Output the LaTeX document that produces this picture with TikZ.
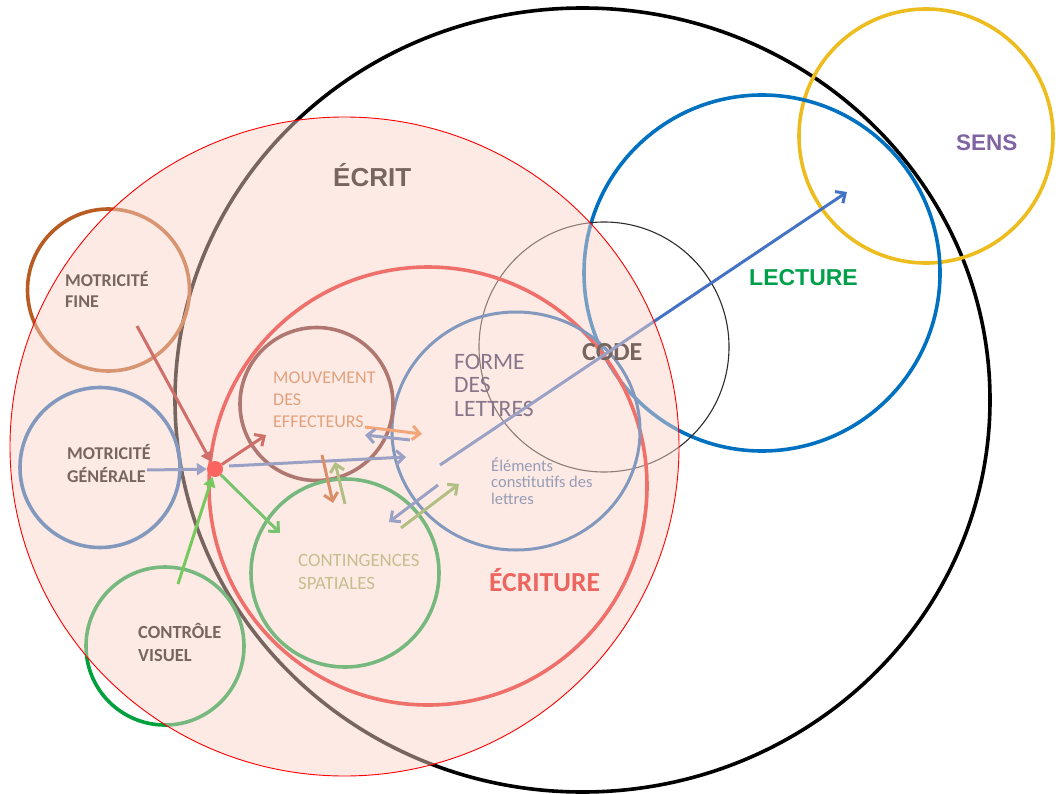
\documentclass[tikz,border=0pt]{standalone}
\usepackage{fontspec}
\setmainfont{Carlito}
\newfontfamily\arialf{Liberation Sans}
\usetikzlibrary{arrows.meta,shapes.geometric}
\definecolor{cFine}{RGB}{185,92,35}
\definecolor{cBlueRing}{RGB}{20,100,180}
\definecolor{cGreenRing}{RGB}{0,160,60}
\definecolor{cMouv}{RGB}{110,35,35}
\definecolor{cEcriture}{RGB}{230,20,20}
\definecolor{cCode}{RGB}{45,45,45}
\definecolor{cLecture}{RGB}{0,112,192}
\definecolor{cSens}{RGB}{237,188,30}
\definecolor{tSens}{RGB}{128,100,162}
\definecolor{tLecture}{RGB}{0,160,75}
\definecolor{tEcriture}{RGB}{225,0,0}
\definecolor{tForme}{RGB}{30,30,80}
\definecolor{tElem}{RGB}{60,105,165}
\definecolor{tMouv}{RGB}{205,115,55}
\definecolor{tCont}{RGB}{150,170,90}
\definecolor{aRed}{RGB}{170,20,20}
\definecolor{aBlue}{RGB}{68,114,196}
\definecolor{aGreen}{RGB}{0,190,0}
\definecolor{aGreenB}{RGB}{0,180,30}
\definecolor{aOrange}{RGB}{237,125,49}
\definecolor{aOrangeD}{RGB}{190,80,20}
\definecolor{aOlive}{RGB}{112,173,71}
\definecolor{ovPink}{RGB}{250,212,200}
\tikzset{
  ring/.style={circle, draw, line width=3.6pt, inner sep=0pt, minimum size=#1},
  oval/.style 2 args={ellipse, draw, line width=3.6pt, inner sep=0pt, minimum width=#1, minimum height=#2},
  lbl/.style={anchor=base west, align=left, inner sep=0pt},
  boldlbl/.style={lbl, font=\bfseries\fontsize{18}{22}\selectfont},
  arr/.style={line width=3pt, -{Straight Barb[length=7.5pt,width=14pt]}},
  tarr/.style={line width=3pt, -{Triangle[length=10pt,width=12pt]}},
}
\begin{document}
\begin{tikzpicture}[x=1pt,y=-1pt]
\useasboundingbox (0,0) rectangle (1056,794);
% rings
\node[oval={815pt}{784pt}, draw=black] (ecrit) at (582.5,400) {};
\node[ring=254pt, draw=cSens] (sens) at (926,136) {};
\node[ring=356pt, draw=cLecture] (lecture) at (762,273) {};
\node[ring=250pt, draw=cCode, line width=1.1pt] (code) at (604,347) {};
\node[ring=438pt, draw=cEcriture] (ecriture) at (428,486) {};
\node[oval={248pt}{238pt}, draw=cBlueRing, line width=3pt] (forme) at (516,431) {};
\node[ring=153pt, draw=cMouv] (mouv) at (316.5,404) {};
\node[ring=188pt, draw=cGreenRing] (cont) at (345,573) {};
\node[ring=162pt, draw=cFine] (fine) at (108.5,290) {};
\node[ring=160pt, draw=cBlueRing] (gen) at (100,467.5) {};
\node[ring=158pt, draw=cGreenRing] (ctrl) at (165,646) {};
% texts (base anchor = baseline of the last line)
\node[lbl, font=\arialf\bfseries\fontsize{26}{30}\selectfont] (tecrit) at (333,187) {ÉCRIT};
\node[lbl, text=tSens, font=\arialf\bfseries\fontsize{22.5}{26}\selectfont] (tsens) at (956,151) {SENS};
\node[lbl, text=tLecture, font=\arialf\bfseries\fontsize{23}{26}\selectfont] (tlecture) at (749,285) {LECTURE};
\node[lbl, font=\bfseries\fontsize{26}{30}\selectfont] (tcode) at (582,360) {CODE};
\node[lbl, text=tEcriture, font=\bfseries\fontsize{27.5}{30}\selectfont] (tecriture) at (489,591) {ÉCRITURE};
\node[lbl, text=tForme, font=\fontsize{23.5}{23.3}\selectfont] (tforme) at (454,416) {FORME\\DES\\LETTRES};
\node[lbl, text=tElem, font=\fontsize{16.5}{16.2}\selectfont] (telem) at (491,504) {Éléments\\constitutifs des\\lettres};
\node[lbl, text=tMouv, font=\fontsize{18}{22}\selectfont] (tmouv) at (273,427) {MOUVEMENT\\DES\\EFFECTEURS};
\node[lbl, text=tCont, font=\fontsize{18.8}{22.5}\selectfont] (tcont) at (298,589) {CONTINGENCES\\SPATIALES};
\node[boldlbl, font=\bfseries\fontsize{18}{21.5}\selectfont] (tfine) at (65,307.5) {MOTRICITÉ\\FINE};
\node[boldlbl, font=\bfseries\fontsize{18}{23}\selectfont] (tgen) at (67,482) {MOTRICITÉ\\GÉNÉRALE};
\node[boldlbl, font=\bfseries\fontsize{18.5}{23}\selectfont] (tctrl) at (138,661) {CONTRÔLE\\VISUEL};
% hub
\node[circle, fill=red, inner sep=0pt, minimum size=16pt] (hub) at (215,469) {};
% arrow end points
\coordinate (fineOut) at (137,326);
\coordinate (genOut) at (147,470);
\coordinate (ctrlOut) at (178,584);
\coordinate (mouvIn) at (266,435);
\coordinate (contIn) at (280,533);
\coordinate (hubE) at (229,466);
\coordinate (formeIn) at (406,457);
\coordinate (oA) at (365,427);
\coordinate (oB) at (422,434);
\coordinate (lA) at (410,440);
\coordinate (lB) at (365,435);
\coordinate (dA) at (322,455);
\coordinate (dB) at (333,503);
\coordinate (gA) at (345,504);
\coordinate (gB) at (335,462);
\coordinate (eA) at (438,485);
\coordinate (eB) at (389,522);
\coordinate (fA) at (401,528);
\coordinate (fB) at (459,484);
\coordinate (longA) at (440,465);
\coordinate (sensIn) at (847,192);
% arrows
\draw[tarr, aRed] (fineOut) -- (hub);
\draw[tarr, aBlue] (genOut) -- (hub);
\draw[tarr, aGreen] (ctrlOut) -- (hub);
\draw[arr, aRed] (hub) -- (mouvIn);
\draw[arr, aGreenB] (hub) -- (contIn);
\draw[arr, aBlue] (hubE) -- (formeIn);
\draw[arr, aOrange] (oA) -- (oB);
\draw[arr, aBlue] (lA) -- (lB);
\draw[arr, aOrangeD] (dA) -- (dB);
\draw[arr, aOlive] (gA) -- (gB);
\draw[arr, aBlue] (eA) -- (eB);
\draw[arr, aOlive] (fA) -- (fB);
\draw[arr, aBlue, line width=3pt] (longA) -- (sensIn);
% translucent overlay
\node[ellipse, inner sep=0pt, minimum width=669pt, minimum height=659pt, fill=ovPink, fill opacity=0.48, draw=red, line width=0.9pt] (overlay) at (344.5,446.5) {};
\end{tikzpicture}
\end{document}
